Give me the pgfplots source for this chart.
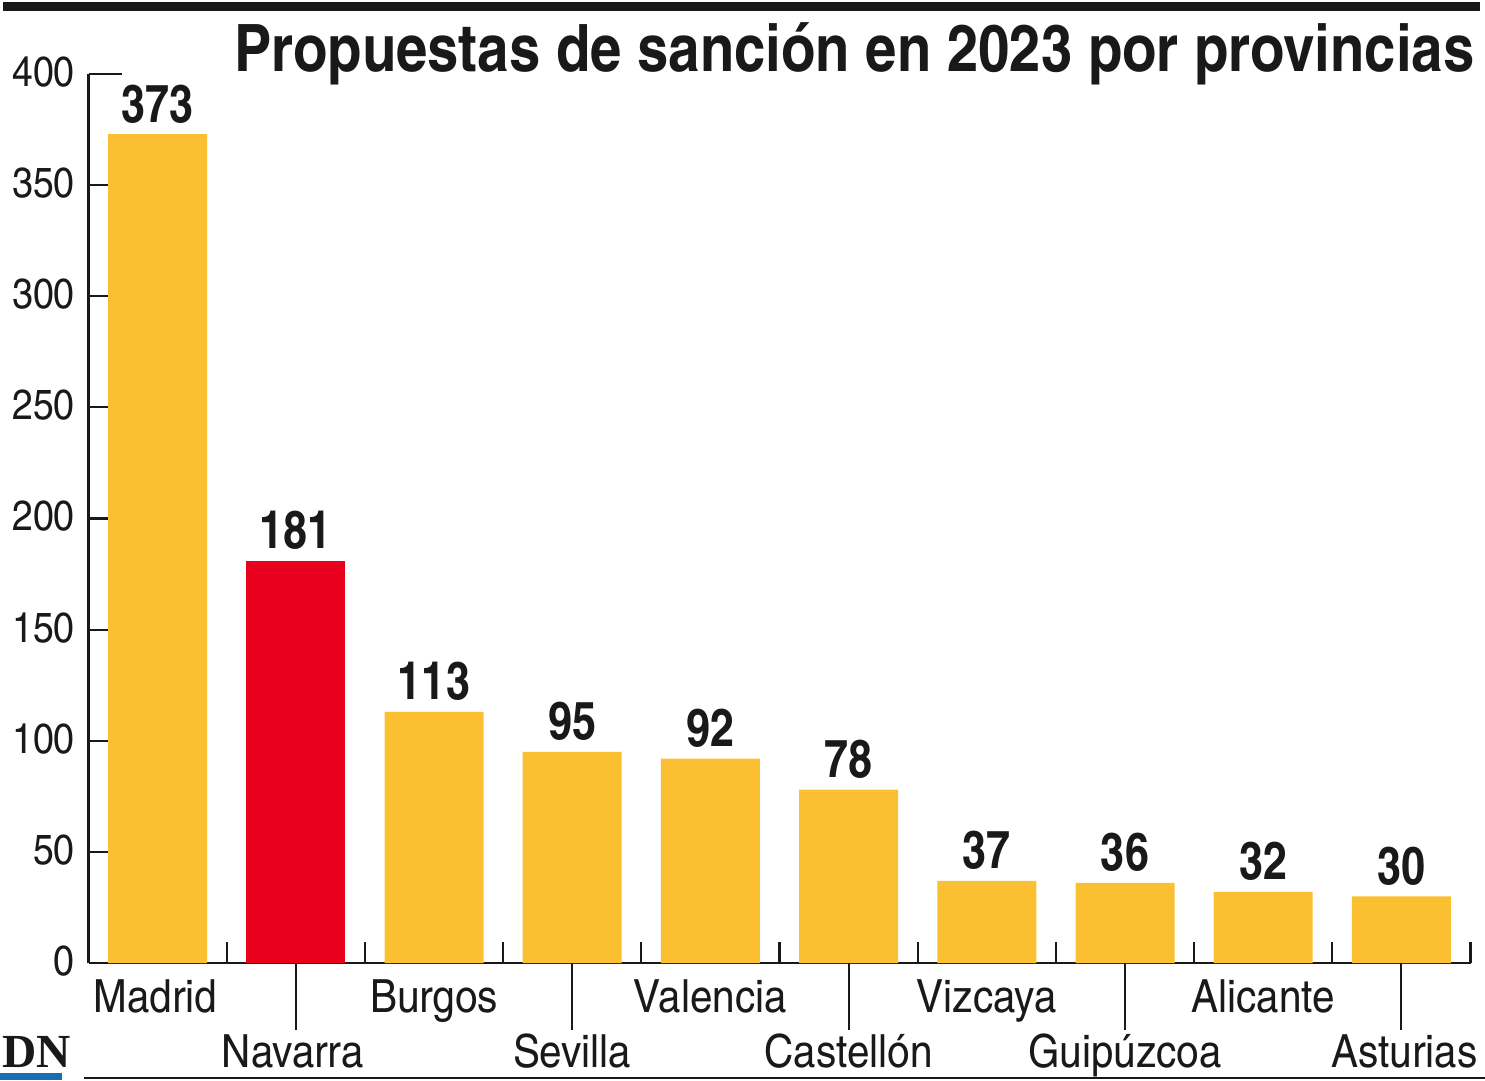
\documentclass[border=0pt]{standalone}
\usepackage{pgfplots}
\pgfplotsset{compat=1.18}
\usepackage{fontspec}
\setmainfont{texgyreheroscn}[Extension=.otf, UprightFont=*-regular, BoldFont=*-bold]
\newfontfamily\labelfont{texgyreheroscn}[Extension=.otf, UprightFont=*-regular, BoldFont=*-bold, FakeStretch=1.08]
\newfontfamily\titlefont{texgyreheroscn}[Extension=.otf, UprightFont=*-regular, BoldFont=*-bold, FakeStretch=1.05]
\newfontfamily\logofont{Liberation Serif}

\definecolor{barYellow}{RGB}{251,192,50}
\definecolor{barRed}{RGB}{232,0,28}
\definecolor{logoBlue}{RGB}{24,110,180}
\definecolor{ink}{RGB}{25,25,25}

\begin{document}
\begin{tikzpicture}
\useasboundingbox (0,0) rectangle (148.5mm,108mm);

% top rule and title
\fill[ink] (0.3mm,106.9mm) rectangle (148mm,107.8mm);
\node[anchor=base east, inner sep=0pt, text=ink, font=\titlefont\fontsize{18.6pt}{20pt}\selectfont\bfseries]
  at (147.5mm,100.8mm) {Propuestas de sanción en 2023 por provincias};

\begin{axis}[
  at={(8.85mm,11.7mm)}, anchor=south west,
  scale only axis, width=138.2mm, height=88.9mm,
  xmin=-0.5, xmax=9.5, ymin=0, ymax=400,
  axis x line=bottom, axis y line=left,
  axis line style={-, ink, line width=0.7pt},
  ybar, bar width=9.9mm, bar shift=0pt,
  xtick={0.5,1.5,...,9.5}, xticklabels={},
  xtick align=inside, ytick align=inside,
  major tick length=2.1mm,
  tick style={ink, line width=0.6pt},
  ytick={0,50,...,350},
  extra y ticks={400},
  extra y tick style={major tick length=3.3mm},
  yticklabel style={font=\labelfont\fontsize{12pt}{14pt}\selectfont, text=ink, xshift=-0.15mm, yshift=0.2mm},
  /pgf/number format/assume math mode=true,
  clip=false,
  nodes near coords,
  every node near coord/.append style={anchor=base, yshift=1.2mm, text=ink,
    font=\fontsize{15pt}{17pt}\selectfont\bfseries},
]
% yellow bars: all provinces except Navarra
\addplot[fill=barYellow, draw=none] coordinates {
  (0,373) (2,113) (3,95) (4,92) (5,78) (6,37) (7,36) (8,32) (9,30)};
% Navarra highlighted in red
\addplot[fill=barRed, draw=none] coordinates {(1,181)};

% category labels on two rows, lower row hung from a leader line
\begin{scope}[every node/.style={anchor=base, inner sep=0pt, text=ink, font=\labelfont\fontsize{13pt}{15pt}\selectfont}]
  \node at (axis cs:0,0) [yshift=-4.9mm, xshift=-0.2mm] {Madrid};
  \node at (axis cs:2,0) [yshift=-4.9mm] {Burgos};
  \node at (axis cs:4,0) [yshift=-4.9mm] {Valencia};
  \node at (axis cs:6,0) [yshift=-4.9mm] {Vizcaya};
  \node at (axis cs:8,0) [yshift=-4.9mm] {Alicante};
  \node at (axis cs:1,0) [yshift=-10.4mm, xshift=-0.3mm] {Navarra};
  \node at (axis cs:3,0) [yshift=-10.4mm] {Sevilla};
  \node at (axis cs:5,0) [yshift=-10.4mm] {Castellón};
  \node at (axis cs:7,0) [yshift=-10.4mm] {Guipúzcoa};
  \node at (axis cs:9,0) [yshift=-10.4mm, xshift=0.3mm] {Asturias};
\end{scope}
\pgfplotsinvokeforeach{1,3,5,7,9}{
  \draw[ink, line width=0.6pt] (axis cs:#1,0) -- ([yshift=-6.7mm]axis cs:#1,0);
}
\end{axis}

% footer: logo and rule
\node[anchor=base west, inner sep=0pt, text=ink, font=\logofont\fontsize{13.5pt}{15pt}\selectfont\bfseries]
  at (0.2mm,1.25mm) {DN};
\fill[logoBlue] (0,0) rectangle (6.2mm,0.7mm);
\draw[ink, line width=0.6pt] (8.4mm,0.2mm) -- (148.5mm,0.2mm);
\end{tikzpicture}
\end{document}
